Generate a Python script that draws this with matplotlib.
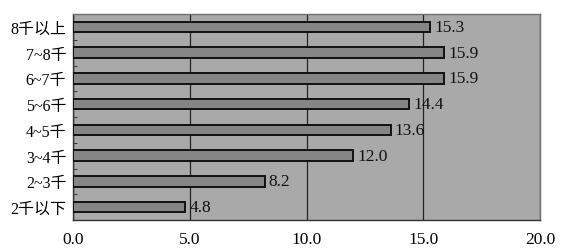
import matplotlib
matplotlib.use("Agg")
import matplotlib.pyplot as plt
import numpy as np

categories = ["8千以上", "7~8千", "6~7千", "5~6千", "4~5千", "3~4千", "2~3千", "2千以下"]
values = [15.3, 15.9, 15.9, 14.4, 13.6, 12.0, 8.2, 4.8]
value_labels = ["15.3", "15.9", "15.9", "14.4", "13.6", "12.0", "8.2", "4.8"]
xticks = [0, 5, 10, 15, 20]
xtick_labels = ["0.0", "5.0", "10.0", "15.0", "20.0"]

fam = ["Liberation Serif", "Noto Sans CJK SC"]
plt.rcParams["font.family"] = fam

fig = plt.figure(figsize=(5.66, 2.51), dpi=100)
ax = fig.add_axes([73.3 / 566, 1 - 221 / 251, (540 - 73.3) / 566, (221 - 15) / 251])
ax.set_facecolor("#a9a9a9")

n = len(categories)
y = np.arange(n)[::-1]
ax.barh(y, values, height=0.4, color="#858585", edgecolor="#111111", linewidth=1.4, zorder=3)
for yi, v, lab in zip(y, values, value_labels):
    ax.annotate(lab, (v, yi), xytext=(3, 0), textcoords="offset points",
                va="center", ha="left", fontsize=12.5, color="#111111", zorder=4)

ax.set_xlim(0, 20)
ax.set_ylim(-0.5, n - 0.5)
ax.set_xticks(xticks)
ax.set_xticklabels(xtick_labels, fontsize=12.5)
ax.set_yticks(y)
ax.set_yticklabels(categories, fontsize=11.5)
ax.set_yticks(np.arange(n - 1) + 0.5, minor=True)
ax.tick_params(axis="y", which="major", length=0, pad=5)
ax.tick_params(axis="y", which="minor", direction="in", length=3, color="#222222")
ax.tick_params(axis="x", length=0, pad=8)
ax.xaxis.grid(True, color="#222222", linewidth=0.9, zorder=1)
ax.set_axisbelow(True)
for s in ["top", "right"]:
    ax.spines[s].set_color("#707070")
    ax.spines[s].set_linewidth(1.0)
for s in ["left", "bottom"]:
    ax.spines[s].set_color("#333333")
    ax.spines[s].set_linewidth(1.0)

fig.savefig("out.png", dpi=100)
